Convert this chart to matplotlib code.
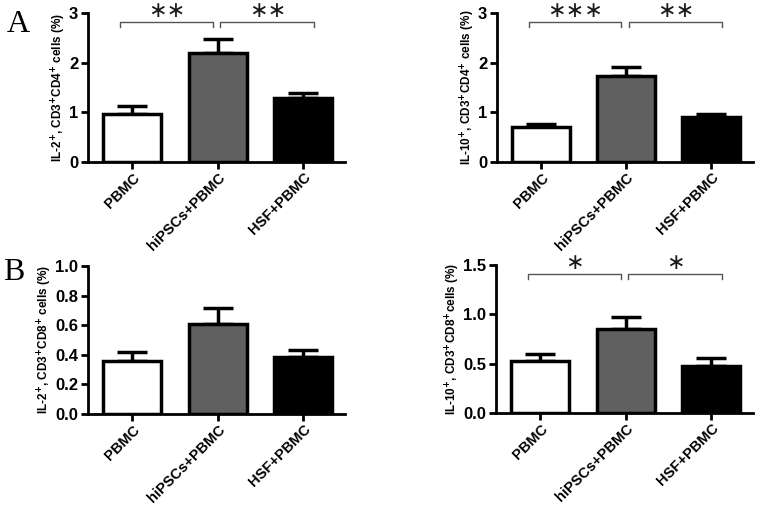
import matplotlib.pyplot as plt

plt.rcParams['font.family'] = ['Liberation Sans', 'DejaVu Sans']
plt.rcParams['font.weight'] = 'bold'

groups = ["PBMC", "hiPSCs+PBMC", "HSF+PBMC"]
colors = ["white", "#606060", "black"]

# values (mean, upper error)
il2_cd4 = [0.97, 2.20, 1.28]
il2_cd4_err = [0.15, 0.27, 0.10]
il10_cd4 = [0.70, 1.73, 0.90]
il10_cd4_err = [0.07, 0.18, 0.07]
il2_cd8 = [0.355, 0.605, 0.385]
il2_cd8_err = [0.065, 0.11, 0.045]
il10_cd8 = [0.53, 0.85, 0.48]
il10_cd8_err = [0.07, 0.12, 0.08]

ylabels = [r"IL-2$^{\mathbf{+}}$, CD3$^{\mathbf{+}}$CD4$^{\mathbf{+}}$ cells (%)",
           r"IL-10$^{\mathbf{+}}$, CD3$^{\mathbf{+}}$CD4$^{\mathbf{+}}$ cells (%)",
           r"IL-2$^{\mathbf{+}}$, CD3$^{\mathbf{+}}$CD8$^{\mathbf{+}}$ cells (%)",
           r"IL-10$^{\mathbf{+}}$, CD3$^{\mathbf{+}}$CD8$^{\mathbf{+}}$cells (%)"]

# stars for brackets (PBMC vs hiPSCs, hiPSCs vs HSF), None = no bracket
stars = [("∗∗", "∗∗"), ("∗∗∗", "∗∗"), None, ("∗", "∗")]
ylims = [3, 3, 1.0, 1.5]
yticks = [[0, 1, 2, 3], [0, 1, 2, 3], [0.0, 0.2, 0.4, 0.6, 0.8, 1.0], [0.0, 0.5, 1.0, 1.5]]
ytick_fmt = ["{:.0f}", "{:.0f}", "{:.1f}", "{:.1f}"]

data = [(il2_cd4, il2_cd4_err), (il10_cd4, il10_cd4_err),
        (il2_cd8, il2_cd8_err), (il10_cd8, il10_cd8_err)]

# axes boxes in pixels (left, top(ymax), right, bottom(0))
boxes = [(88, 13, 345, 162), (497, 13, 753, 162),
         (88, 266, 345, 414), (496, 265, 753, 413)]

W, H = 759, 507
fig = plt.figure(figsize=(W / 100, H / 100), dpi=100)

for i in range(4):
    l, t, r, b = boxes[i]
    ax = fig.add_axes([l / W, 1 - b / H, (r - l) / W, (b - t) / H])
    vals, errs = data[i]
    x = list(range(3))
    ax.bar(x, vals, width=0.68, color=colors, edgecolor="black", linewidth=2.5, zorder=2)
    ax.errorbar(x, vals, yerr=[[0, 0, 0], errs], fmt="none", ecolor="black",
                elinewidth=2.5, capsize=11, capthick=2.5, zorder=1)
    ax.set_xlim(-0.52, 2.49)
    ax.set_ylim(0, ylims[i])
    ax.set_yticks(yticks[i])
    ax.set_yticklabels([ytick_fmt[i].format(v) for v in yticks[i]], fontsize=12, fontweight="bold")
    ax.set_xticks(x)
    ax.set_xticklabels(groups, rotation=45, ha="right", rotation_mode="anchor",
                       fontsize=10.5, fontweight="bold")
    ax.set_ylabel(ylabels[i], fontsize=8.5, fontweight="bold", labelpad=1)
    for s in ["top", "right"]:
        ax.spines[s].set_visible(False)
    for s in ["left", "bottom"]:
        ax.spines[s].set_linewidth(2)
    ax.tick_params(width=2, length=5, pad=2)
    ax.tick_params(axis="x", pad=1)

    if stars[i] is not None:
        ytop = ylims[i] * 0.94
        drop = ylims[i] * 0.035
        spans = [(-0.14, 0.94), (1.03, 2.13)]
        for (x0, x1), st in zip(spans, stars[i]):
            ax.plot([x0, x0, x1, x1], [ytop - drop, ytop, ytop, ytop - drop],
                    color="#555555", lw=1, clip_on=False)
            ax.text((x0 + x1) / 2, ylims[i] * 1.015, st, ha="center", va="center",
                    fontsize=16, fontweight="normal", family="DejaVu Sans", color="#1a1a1a")

fig.text(7 / W, 1 - 32 / H, "A", fontsize=23, family="Liberation Serif", fontweight="normal")
fig.text(3 / W, 1 - 280 / H, "B", fontsize=23, family="Liberation Serif", fontweight="normal")

plt.savefig("out.png", dpi=100)
